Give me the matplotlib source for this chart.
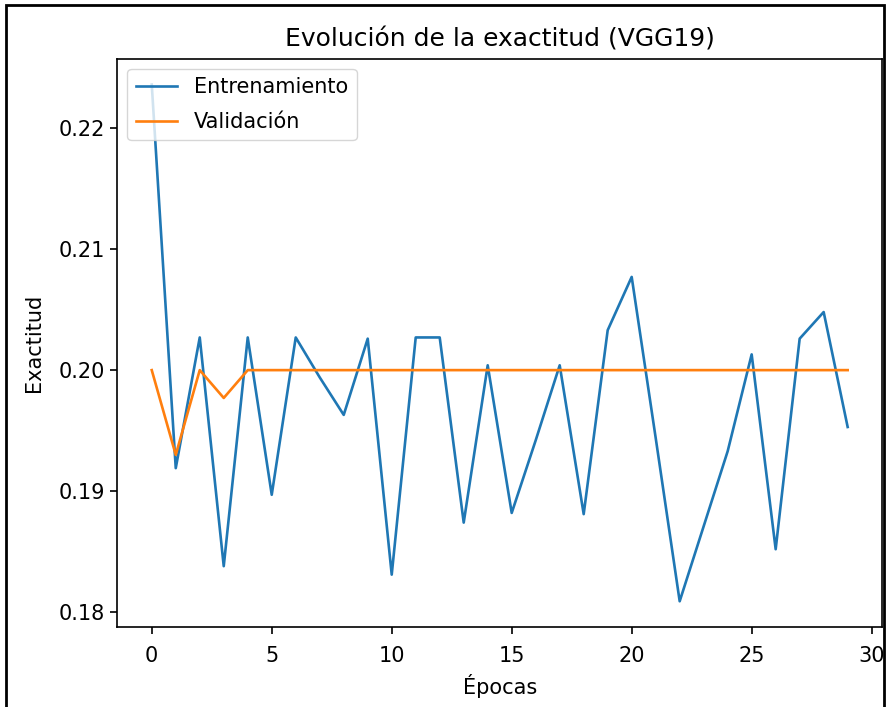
import matplotlib
matplotlib.use("Agg")
import matplotlib.pyplot as plt
import matplotlib.patches as mpatches

# Exactitud por época
epocas = list(range(30))
entrenamiento = [0.2236, 0.1919, 0.2027, 0.1838, 0.2027, 0.1897, 0.2027, 0.1994,
                 0.1963, 0.2026, 0.1831, 0.2027, 0.2027, 0.1874, 0.2004, 0.1882,
                 0.1942, 0.2004, 0.1881, 0.2033, 0.2077, 0.1944, 0.1809, 0.1871,
                 0.1933, 0.2013, 0.1852, 0.2026, 0.2048, 0.1953]
validacion = [0.2000, 0.1930, 0.2000, 0.1977] + [0.2000] * 26

plt.rcParams.update({
    "font.size": 15,
    "axes.titlesize": 18,
    "axes.linewidth": 1.2,
    "xtick.major.size": 5.25,
    "ytick.major.size": 5.25,
    "xtick.major.width": 1.2,
    "ytick.major.width": 1.2,
    "xtick.major.pad": 8,
    "lines.linewidth": 1.9,
})

fig = plt.figure(figsize=(8.86, 7.07), dpi=100)
ax = fig.add_axes([0.132, 0.113, 0.864, 0.804])

ax.plot(epocas, entrenamiento, label="Entrenamiento")
ax.plot(epocas, validacion, label="Validación")

ax.set_title("Evolución de la exactitud (VGG19)", pad=9)
ax.set_xlabel("Épocas", labelpad=6)
ax.set_ylabel("Exactitud", labelpad=10)
ax.legend(loc="upper left", labelspacing=0.7)

# marco negro de la captura
frame = mpatches.Rectangle((6 / 886, -0.1), 878 / 886, 1.1 - 5 / 707,
                           transform=fig.transFigure, fill=False,
                           edgecolor="black", linewidth=2)
fig.add_artist(frame)

fig.savefig("out.png", dpi=100)
